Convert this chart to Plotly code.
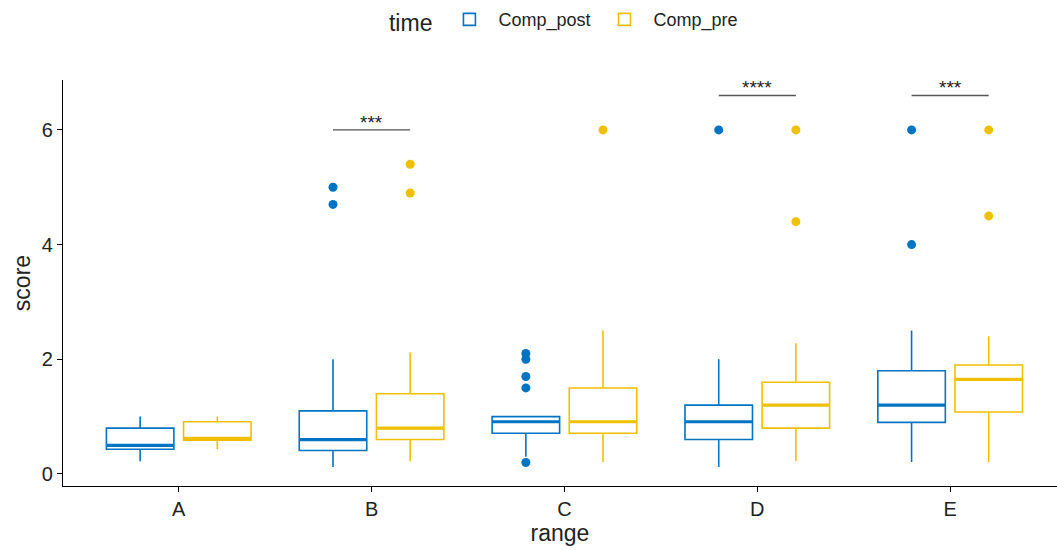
import plotly.graph_objects as go

categories = ["A", "B", "C", "D", "E"]
groups = ["Comp_post", "Comp_pre"]
colors = {"Comp_post": "#0073C2", "Comp_pre": "#EFC000"}

# precomputed box statistics
stats = {
    "Comp_post": {
        "lower":  [0.22, 0.12, 0.30, 0.12, 0.21],
        "q1":     [0.43, 0.41, 0.71, 0.60, 0.90],
        "median": [0.50, 0.60, 0.91, 0.91, 1.20],
        "q3":     [0.80, 1.10, 1.00, 1.20, 1.80],
        "upper":  [1.00, 2.00, 1.00, 2.00, 2.50],
    },
    "Comp_pre": {
        "lower":  [0.43, 0.22, 0.21, 0.22, 0.21],
        "q1":     [0.59, 0.60, 0.71, 0.80, 1.08],
        "median": [0.62, 0.80, 0.91, 1.20, 1.65],
        "q3":     [0.91, 1.40, 1.50, 1.60, 1.90],
        "upper":  [1.00, 2.12, 2.50, 2.28, 2.40],
    },
}

outlier_cat = {
    "Comp_post": ["B", "B", "C", "C", "C", "C", "C", "D", "E", "E"],
    "Comp_pre":  ["B", "B", "C", "D", "D", "E", "E"],
}
outlier_val = {
    "Comp_post": [5.0, 4.7, 2.1, 2.0, 1.7, 1.5, 0.2, 6.0, 6.0, 4.0],
    "Comp_pre":  [5.4, 4.9, 6.0, 6.0, 4.4, 6.0, 4.5],
}

sig_cat = ["B", "D", "E"]
sig_y = [6.0, 6.6, 6.6]
sig_label = ["***", "****", "***"]

dodge = 0.4
box_w = 0.35
offsets = {"Comp_post": -dodge / 2, "Comp_pre": dodge / 2}

fig = go.Figure()
for g in groups:
    xs = [categories.index(c) + offsets[g] for c in categories]
    s = stats[g]
    fig.add_trace(go.Box(
        x=xs, q1=s["q1"], median=s["median"], q3=s["q3"],
        lowerfence=s["lower"], upperfence=s["upper"],
        width=box_w, name=g, boxpoints=False,
        line=dict(color=colors[g], width=1.6), fillcolor="rgba(255,255,255,0)",
        whiskerwidth=0, showlegend=True,
    ))
    # thicker median segments
    mx, my = [], []
    for x, m in zip(xs, s["median"]):
        mx += [x - box_w / 2, x + box_w / 2, None]
        my += [m, m, None]
    fig.add_trace(go.Scatter(x=mx, y=my, mode="lines",
                             line=dict(color=colors[g], width=3.2),
                             showlegend=False, hoverinfo="skip"))
    ox = [categories.index(c) + offsets[g] for c in outlier_cat[g]]
    fig.add_trace(go.Scatter(x=ox, y=outlier_val[g], mode="markers",
                             marker=dict(color=colors[g], size=9),
                             showlegend=False, hoverinfo="skip"))

for c, yv, lab in zip(sig_cat, sig_y, sig_label):
    i = categories.index(c)
    fig.add_shape(type="line", xref="x", yref="y",
                  x0=i - dodge / 2, x1=i + dodge / 2, y0=yv, y1=yv,
                  line=dict(color="#555555", width=1.3))
    fig.add_annotation(x=i, y=yv, xref="x", yref="y", text=lab,
                       showarrow=False, yanchor="bottom", yshift=-5,
                       font=dict(size=19, color="#222222"))

fig.update_layout(
    width=1057, height=550,
    margin=dict(l=63, r=0, t=80, b=64),
    paper_bgcolor="white", plot_bgcolor="white",
    font=dict(family="Liberation Sans, Arial, sans-serif", color="#222222"),
    boxmode="overlay",
    legend=dict(orientation="h", x=0.505, xanchor="center", y=1.145, yanchor="middle",
                title=dict(text="time", side="left", font=dict(size=23)),
                font=dict(size=18), itemwidth=48),
)
fig.update_xaxes(
    range=[-0.6, 4.554], tickmode="array", tickvals=list(range(len(categories))),
    ticktext=categories, showline=True, linecolor="black", linewidth=1.3,
    ticks="outside", ticklen=5, tickcolor="black", tickfont=dict(size=20, color="#222222"),
    showgrid=False, zeroline=False,
    title=dict(text="range", font=dict(size=23), standoff=4),
)
fig.update_yaxes(
    range=[-0.21, 6.87], tickvals=[0, 2, 4, 6],
    showline=True, linecolor="black", linewidth=1.3,
    ticks="outside", ticklen=5, tickcolor="black", tickfont=dict(size=20, color="#222222"),
    showgrid=False, zeroline=False,
    title=dict(text="score", font=dict(size=23), standoff=4),
)

fig.write_html("out.html")
